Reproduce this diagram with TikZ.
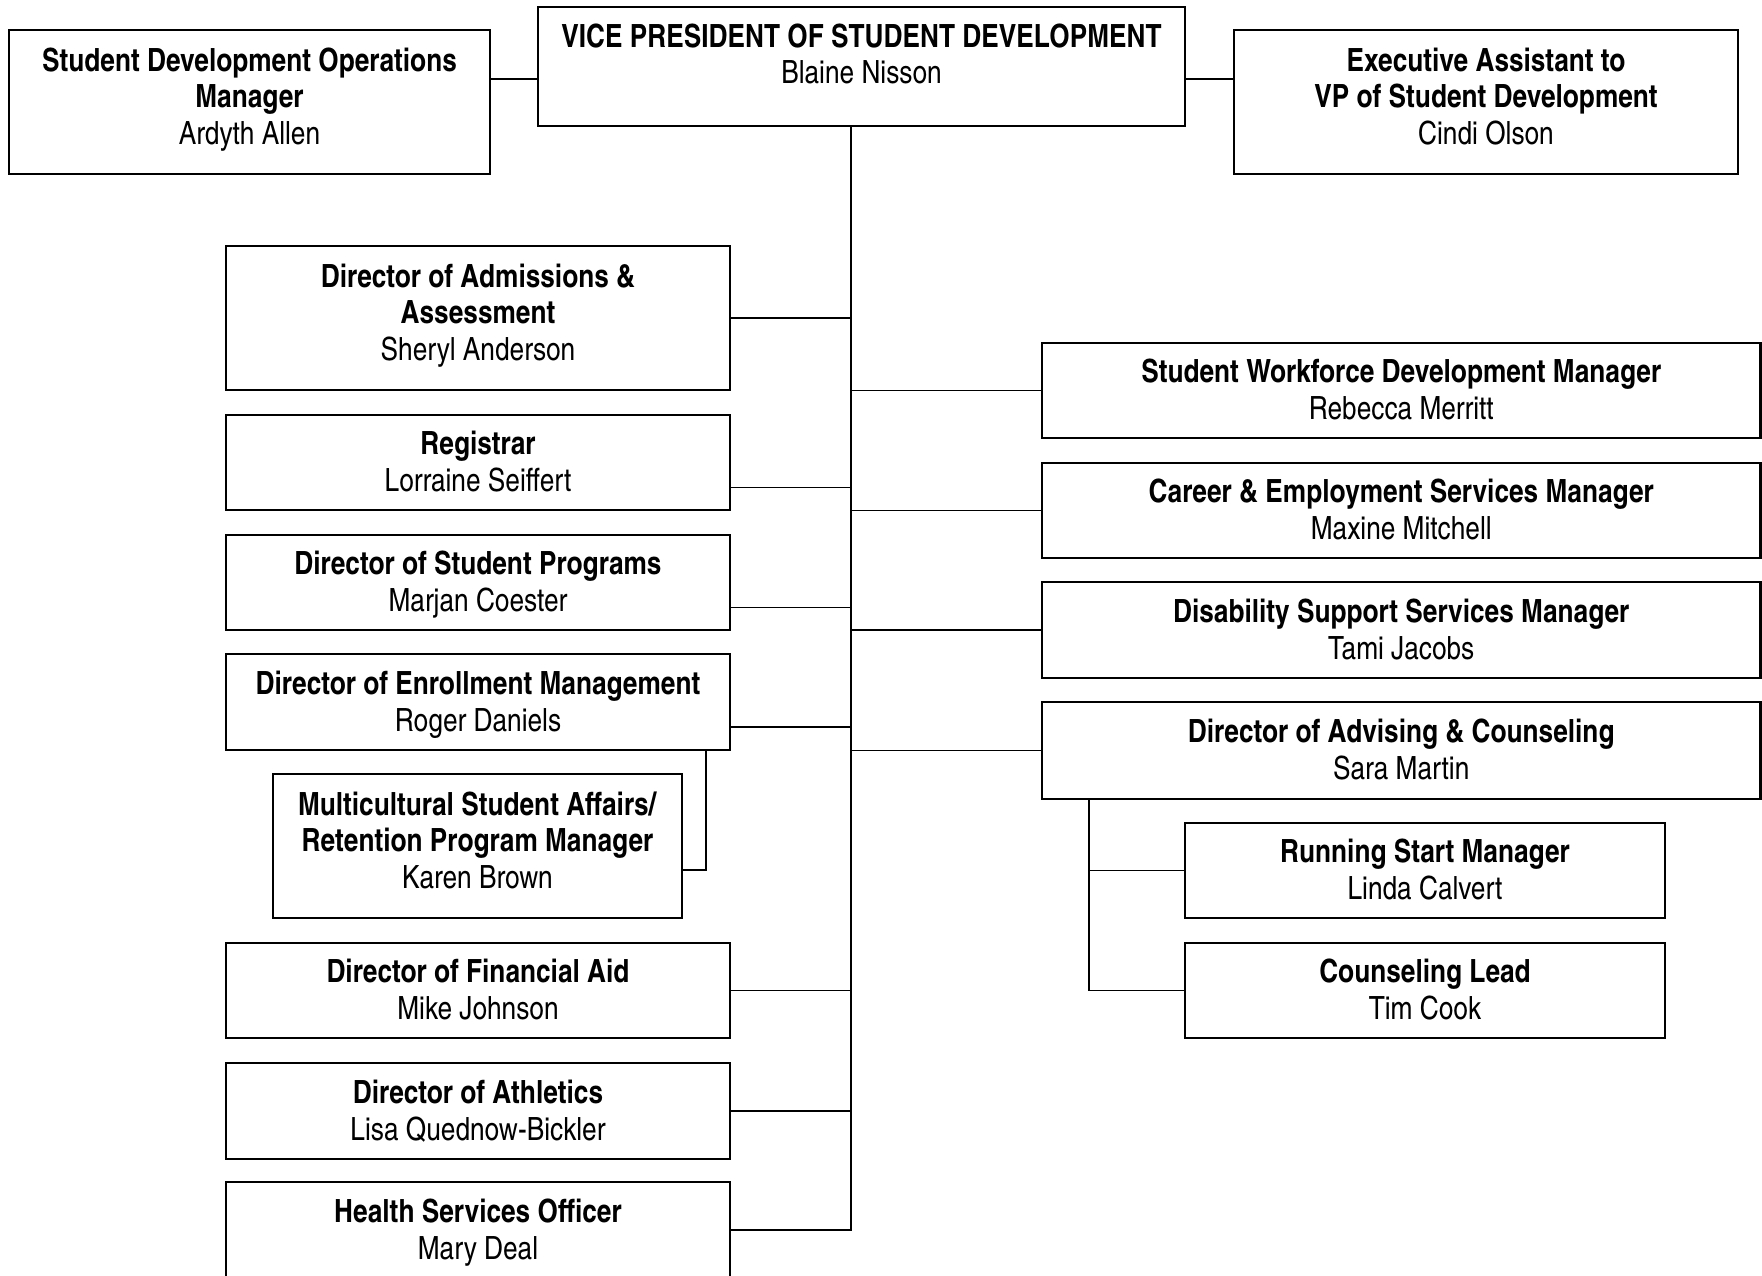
\documentclass[tikz,border=0pt]{standalone}
\usepackage{fontspec}
\setmainfont{texgyreheroscn}[Extension=.otf, UprightFont=*-regular, BoldFont=*-bold]
% fixed line box so that every line is centred the same way
\newcommand\lbox{\rule[-3.8pt]{0pt}{18.3pt}}
% extra depth for the three-line boxes
\newcommand\lboxx{\rule[-8.8pt]{0pt}{0pt}}
\begin{document}
\begin{tikzpicture}[x=0.5pt, y=-0.5pt,
  box/.style={draw, line width=1.1pt, inner sep=2pt, align=center,
    font=\fontsize{16}{18.3}\selectfont},
  txt/.style={inner sep=0pt, align=center, font=\fontsize{16}{18.3}\selectfont},
  link/.style={line width=0.9pt}]
\useasboundingbox (0,0) rectangle (1762,1275);
\clip (0,0) rectangle (1762,1275);

% top row
\node[box, minimum width=323.5pt, minimum height=59.5pt] (vp) at (861.5,66.5) {};
\node[txt] (vpt) at (861.5,54) {\textbf{VICE PRESIDENT OF STUDENT DEVELOPMENT}\\Blaine Nisson};
\node[box, minimum width=240.5pt, minimum height=72pt] (sdo) at (249.5,102)
  {\lbox\textbf{Student Development Operations}\\\textbf{Manager}\\\lbox\lboxx Ardyth Allen};
\node[box, minimum width=252pt, minimum height=72pt] (exa) at (1486,102)
  {\lbox\textbf{Executive Assistant to}\\\textbf{VP of Student Development}\\\lbox\lboxx Cindi Olson};

% left column
\node[box, minimum width=252pt, minimum height=72pt] (adm) at (478,318)
  {\lbox\textbf{Director of Admissions \&}\\\textbf{Assessment}\\\lbox\lboxx Sheryl Anderson};
\node[box, minimum width=252pt, minimum height=47.5pt] (reg) at (478,462.5)
  {\lbox\textbf{Registrar}\\\lbox Lorraine Seiffert};
\node[box, minimum width=252pt, minimum height=47.5pt] (prog) at (478,582.5)
  {\lbox\textbf{Director of Student Programs}\\\lbox Marjan Coester};
\node[box, minimum width=252pt, minimum height=48pt] (enr) at (478,702)
  {\lbox\textbf{Director of Enrollment Management}\\\lbox Roger Daniels};
\node[box, minimum width=204.5pt, minimum height=72pt] (msa) at (477.5,846)
  {\lbox\textbf{Multicultural Student Affairs/}\\\textbf{Retention Program Manager}\\\lbox\lboxx Karen Brown};
\node[box, minimum width=252pt, minimum height=47.5pt] (fin) at (478,990.5)
  {\lbox\textbf{Director of Financial Aid}\\\lbox Mike Johnson};
\node[box, minimum width=252pt, minimum height=48pt] (ath) at (478,1111)
  {\lbox\textbf{Director of Athletics}\\\lbox Lisa Quednow-Bickler};
\node[box, minimum width=252pt, minimum height=48pt] (hso) at (478,1230)
  {\lbox\textbf{Health Services Officer}\\\lbox Mary Deal};

% right column
\node[box, minimum width=359.25pt, minimum height=47.5pt] (swd) at (1401.25,390.5)
  {\lbox\textbf{Student Workforce Development Manager}\\\lbox Rebecca Merritt};
\node[box, minimum width=359.25pt, minimum height=47.5pt] (ces) at (1401.25,510.5)
  {\lbox\textbf{Career \& Employment Services Manager}\\\lbox Maxine Mitchell};
\node[box, minimum width=359.25pt, minimum height=48pt] (dss) at (1401.25,630)
  {\lbox\textbf{Disability Support Services Manager}\\\lbox Tami Jacobs};
\node[box, minimum width=359.25pt, minimum height=48.5pt] (adv) at (1401.25,750.5)
  {\lbox\textbf{Director of Advising \& Counseling}\\\lbox Sara Martin};
\node[box, minimum width=240pt, minimum height=47.5pt] (rsm) at (1425,870.5)
  {\lbox\textbf{Running Start Manager}\\\lbox Linda Calvert};
\node[box, minimum width=240pt, minimum height=47.5pt] (cnl) at (1425,990.5)
  {\lbox\textbf{Counseling Lead}\\\lbox Tim Cook};

% connectors
\coordinate (topy) at (0,79);
\coordinate (sp) at (851,1230);
\coordinate (esp) at (706,870);
\coordinate (asp) at (1089,990.5);

\draw[link] (sdo.east |- topy) -- (vp.west |- topy);
\draw[link] (vp.east |- topy) -- (exa.west |- topy);
\draw[link] (vp.south -| sp) -- (sp) -- (hso.east);

\draw[link] (adm.east) -- (adm.east -| sp);
\draw[link] ([yshift=-12.5pt]reg.east) -- ([yshift=-12.5pt]reg.east -| sp);
\draw[link] ([yshift=-12.5pt]prog.east) -- ([yshift=-12.5pt]prog.east -| sp);
\draw[link] ([yshift=-12.5pt]enr.east) -- ([yshift=-12.5pt]enr.east -| sp);
\draw[link] (fin.east) -- (fin.east -| sp);
\draw[link] (ath.east) -- (ath.east -| sp);
\draw[link] (enr.south -| esp) -- (esp) -- (msa.east |- esp);

\draw[link] (swd.west -| sp) -- (swd.west);
\draw[link] (ces.west -| sp) -- (ces.west);
\draw[link] (dss.west -| sp) -- (dss.west);
\draw[link] (adv.west -| sp) -- (adv.west);

\draw[link] (adv.south -| asp) -- (asp) -- (cnl.west);
\draw[link] (rsm.west -| asp) -- (rsm.west);
\end{tikzpicture}
\end{document}
